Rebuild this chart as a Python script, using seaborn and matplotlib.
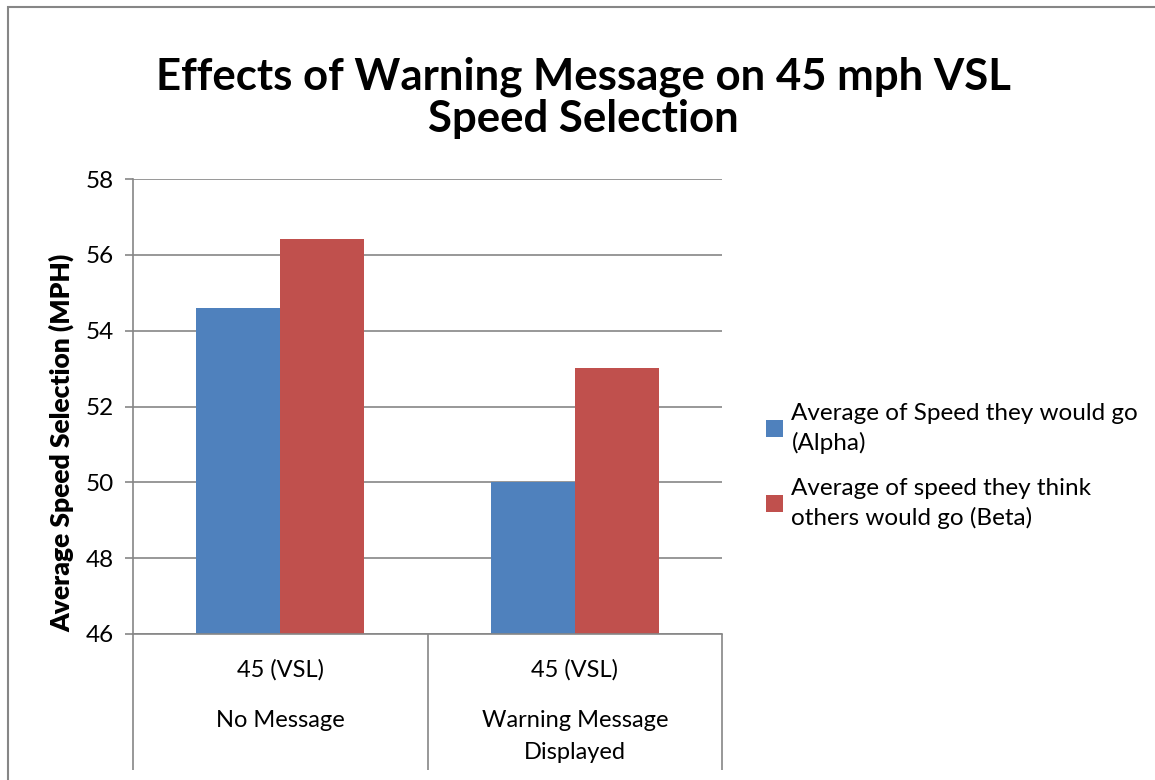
import pandas as pd
import matplotlib.pyplot as plt
import matplotlib.patches as mpatches
import matplotlib.transforms as mtransforms
import seaborn as sns

sns.set_theme(style="white")
plt.rcParams['font.family'] = ['Lato', 'DejaVu Sans']
plt.rcParams['text.color'] = 'black'
plt.rcParams['axes.labelcolor'] = 'black'
plt.rcParams['xtick.color'] = 'black'
plt.rcParams['ytick.color'] = 'black'

# data
categories = ["No Message", "Warning Message\nDisplayed"]
sublabels = ["45 (VSL)", "45 (VSL)"]
series = ["Average of Speed they would go\n(Alpha)",
          "Average of speed they think\nothers would go (Beta)"]
alpha_vals = [54.6, 50.0]
beta_vals = [56.43, 53.02]

df = pd.DataFrame({
    "Condition": categories * 2,
    "Series": [series[0]] * 2 + [series[1]] * 2,
    "Speed": alpha_vals + beta_vals,
})

grey = "#868686"
colors = ["#4F81BD", "#C0504D"]

fig = plt.figure(figsize=(11.55, 7.8), dpi=100)
ax = fig.add_axes([133 / 1155, 1 - 634 / 780, (722 - 133) / 1155, (634 - 179) / 780])

sns.barplot(data=df, x="Condition", y="Speed", hue="Series", palette=colors,
            width=0.57, saturation=1, ax=ax, linewidth=0, dodge=True)

ax.set_ylim(46, 58)
ax.set_xlim(-0.5, 1.5)
ax.set_yticks(range(46, 59, 2))
ax.yaxis.grid(True, color=grey, linewidth=1.2)
ax.set_axisbelow(True)
for s in ["top", "right"]:
    ax.spines[s].set_visible(False)
for s in ["left", "bottom"]:
    ax.spines[s].set_color(grey)
    ax.spines[s].set_linewidth(1.2)

ax.tick_params(axis="y", which="major", length=6, color=grey, width=1.2,
               labelsize=17.5, labelcolor="black", pad=8, left=True)
ax.set_ylabel("Average Speed Selection (MPH)", fontsize=19, fontweight="heavy")
ax.yaxis.set_label_coords(-0.1, 0.42)
ax.set_xlabel("")

# multi-level category axis
ax.set_xticks([0, 1])
ax.set_xticklabels(["", ""])
ax.tick_params(axis="x", which="major", length=0)
ax.set_xticks([-0.5, 0.5, 1.5], minor=True)
ax.tick_params(axis="x", which="minor", length=98, color=grey, width=1.2,
               direction="out", bottom=True)
trans = mtransforms.blended_transform_factory(ax.transData, ax.transAxes)
for i, (sub, cat) in enumerate(zip(sublabels, categories)):
    ax.text(i, -0.079, sub, transform=trans, ha="center", va="center", fontsize=17)
    ax.text(i, -0.168, cat, transform=trans, ha="center", va="top", fontsize=17,
            linespacing=1.6)

# legend
handles, labels = ax.get_legend_handles_labels()
leg = ax.legend(handles, labels, loc="center left",
                bbox_to_anchor=(744 / 1155, 1 - 466 / 780),
                bbox_transform=fig.transFigure, frameon=False, fontsize=17.5,
                handlelength=0.7, handleheight=0.7, handletextpad=0.35,
                labelspacing=1.0)
for t in leg.get_texts():
    t.set_linespacing(1.45)

fig.text(0.505, 1 - 98 / 780, "Effects of Warning Message on 45 mph VSL\nSpeed Selection",
         ha="center", va="center", fontsize=31.5, fontweight="bold", linespacing=1.05)

# chart frame
fig.patches.append(mpatches.Rectangle((8 / 1155, -0.1), 1.2, 1.1 - 7 / 780,
                                      transform=fig.transFigure, fill=False,
                                      edgecolor=grey, linewidth=1.5))

fig.savefig("out.png", dpi=100)
